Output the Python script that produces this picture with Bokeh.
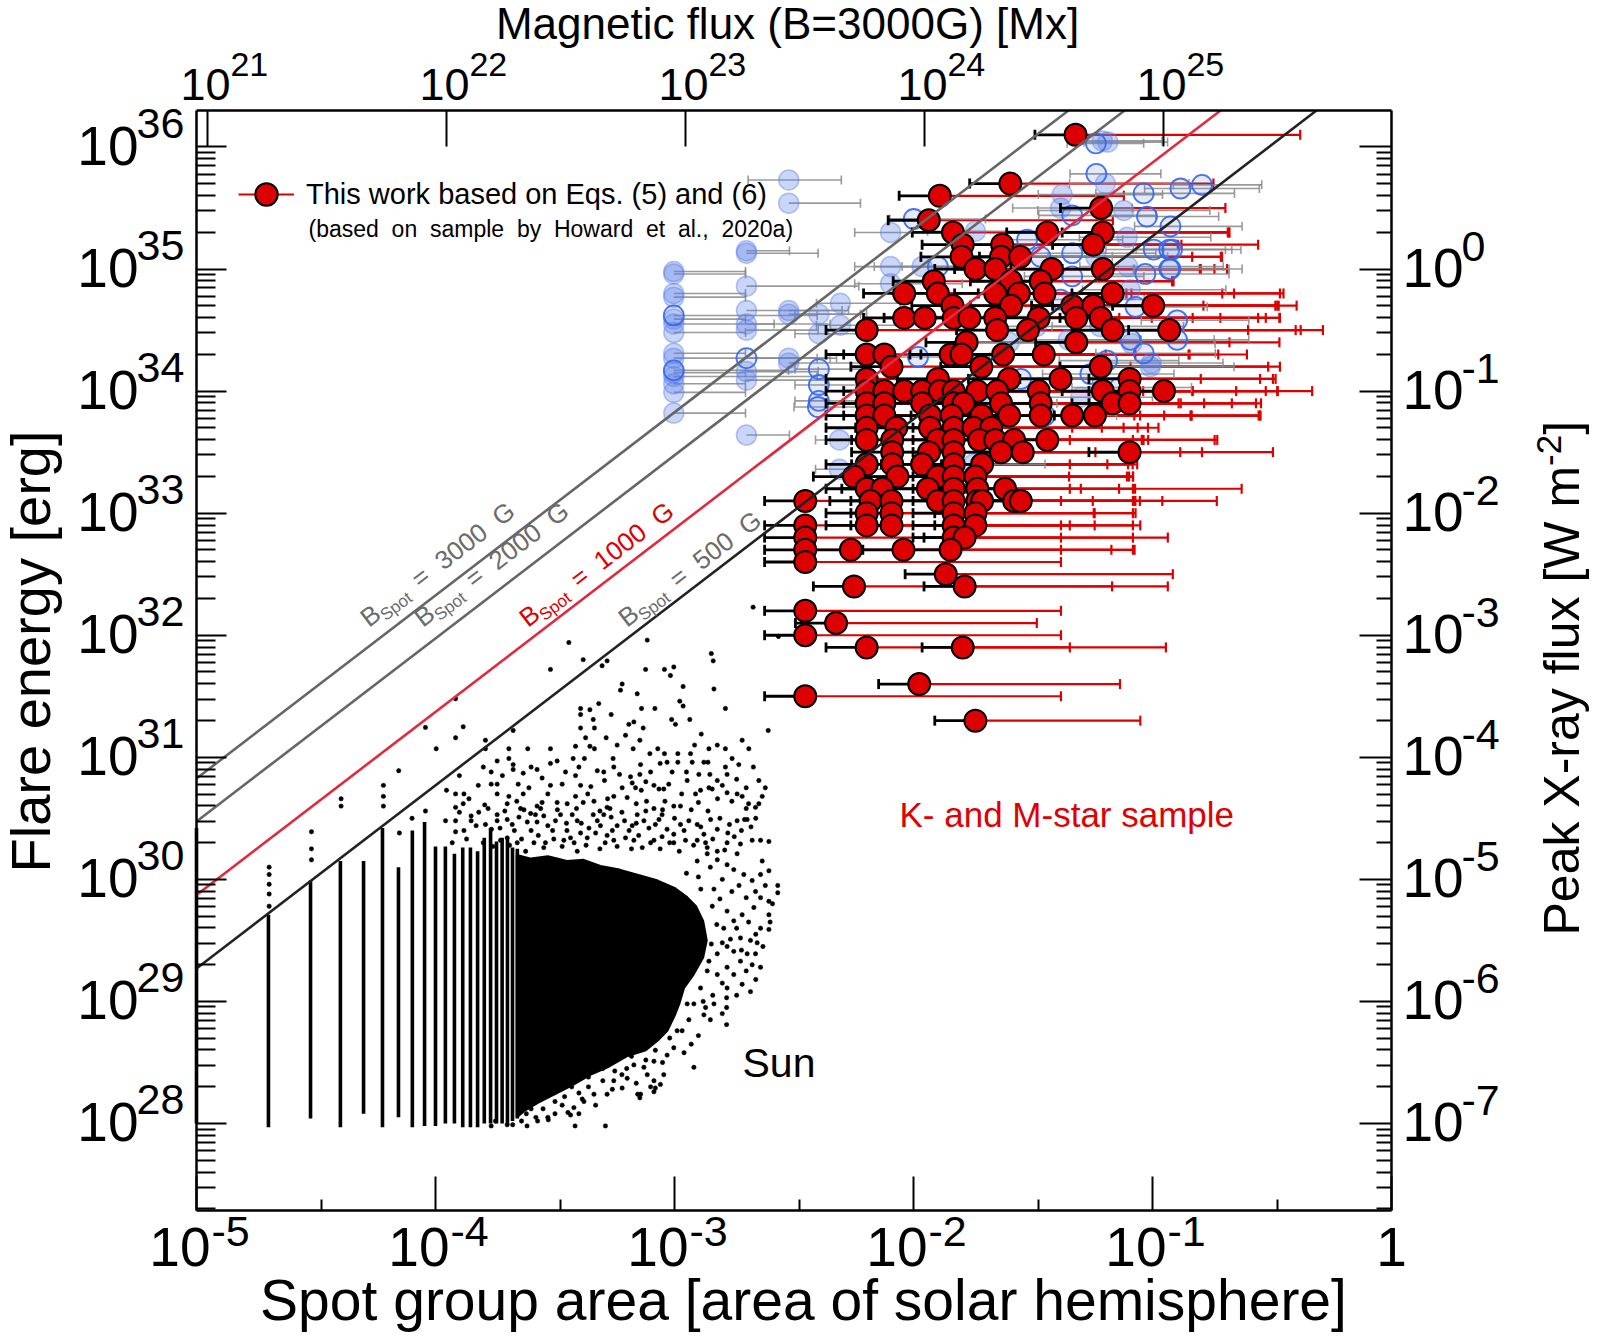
import math
from bokeh.plotting import figure
from bokeh.models import (Range1d, LogAxis, LogScale, FixedTicker, Label, Legend,
                          LegendItem, CustomJSTickFormatter)
from bokeh.embed import file_html
from bokeh.resources import INLINE

FONT = "Liberation Sans"
NB = "\u00a0"

# ---------------- axis definitions ----------------
X_MIN, X_MAX = 1e-5, 1.0
Y_LOG_MIN, Y_LOG_MAX = 27.287, 36.299
XRAY_SHIFT = 35            # log10 E[erg] - log10 F[W m^-2]
FLUX_UNIT = 9.0e25         # Mx for the whole hemisphere at 3000 G

bottom_tick_exp = [-5, -4, -3, -2, -1, 0]
bottom_tick_text = [("10", "-5"), ("10", "-4"), ("10", "-3"), ("10", "-2"), ("10", "-1"), ("1", "")]
bottom_minor = [3.35e-5, 3.35e-4, 3.35e-3, 3.35e-2, 3.35e-1]
left_tick_exp = [28, 29, 30, 31, 32, 33, 34, 35, 36]
right_tick_exp = [-7, -6, -5, -4, -3, -2, -1, 0, 1]
right_labeled_exp = [-7, -6, -5, -4, -3, -2, -1, 0]
top_tick_exp = [21, 22, 23, 24, 25]

# ---------------- field-strength lines ----------------
B_values = [3000, 2000, 1000, 500]
B_colors = ["#666666", "#666666", "#e02a3f", "#222222"]
B_label_colors = ["#6b6b6b", "#6b6b6b", "#dd0000", "#6b6b6b"]
LOG_E_500G_AT_MIN_AREA = 29.27

# ---------------- Sun (log10 area, log10 energy) ----------------
sun_col_n = [1, 2, 3, 4, 5, 6, 7, 8, 9, 10, 11, 12, 13, 14, 15, 16, 17, 18, 19, 20, 21, 22]
sun_col_lo = [28.00, 27.97, 28.04, 27.97, 28.08, 27.97, 28.05, 27.97, 27.98, 27.98, 28.00,
              28.00, 27.97, 27.97, 27.97, 28.00, 28.00, 28.00, 28.00, 28.00, 28.02, 28.04]
sun_col_hi = [30.42, 29.71, 29.99, 30.15, 30.15, 30.42, 30.10, 30.40, 30.47, 30.27, 30.27,
              30.21, 30.26, 30.26, 30.23, 30.34, 30.42, 30.31, 30.34, 30.34, 30.26, 30.25]

sun_core = [(-3.66, 30.20), (-3.60, 30.17), (-3.53, 30.19), (-3.45, 30.15), (-3.38, 30.16),
            (-3.31, 30.11), (-3.23, 30.08), (-3.14, 30.03), (-3.07, 29.99), (-3.00, 29.93),
            (-2.95, 29.86), (-2.91, 29.78), (-2.88, 29.66), (-2.865, 29.50), (-2.88, 29.36),
            (-2.92, 29.22), (-2.96, 29.11), (-2.98, 28.98), (-3.00, 28.88), (-3.03, 28.76),
            (-3.07, 28.68), (-3.12, 28.60), (-3.20, 28.55), (-3.28, 28.46), (-3.35, 28.40),
            (-3.43, 28.31), (-3.50, 28.24), (-3.57, 28.17), (-3.63, 28.10), (-3.66, 28.05)]

sun_high = [(-3.442, 31.94), (-3.114, 31.96), (-3.382, 31.80), (-3.519, 31.72), (-3.303, 31.75),
            (-3.282, 31.79), (-3.121, 31.72), (-3.042, 31.72), (-3.003, 31.74), (-3.017, 31.67),
            (-2.846, 31.85), (-2.838, 31.79), (-3.219, 31.60), (-3.226, 31.55), (-2.964, 31.58),
            (-2.835, 31.56), (-3.156, 31.52), (-3.916, 31.48), (-2.978, 31.46), (-2.964, 31.42),
            (-2.787, 31.40), (-3.138, 31.40), (-3.082, 31.40), (-3.317, 31.44), (-3.393, 31.40),
            (-3.354, 31.39), (-3.393, 31.35), (-3.265, 31.35), (-3.340, 31.31), (-3.012, 31.31),
            (-2.936, 31.31), (-3.170, 31.29), (-3.191, 31.27), (-3.131, 31.24), (-3.393, 31.24),
            (-3.335, 31.24), (-2.996, 31.27), (-3.884, 31.25), (-3.916, 31.16), (-3.675, 31.22),
            (-3.372, 31.16), (-3.286, 31.16), (-3.205, 31.18), (-3.145, 31.14), (-2.888, 31.19),
            (-2.717, 31.14), (-2.608, 31.22), (-3.791, 31.14), (-3.791, 31.07), (-3.693, 31.07),
            (-3.614, 31.07), (-3.519, 31.07), (-3.414, 31.09), (-3.354, 31.09), (-3.335, 31.07),
            (-3.240, 31.10), (-3.173, 31.07), (-3.103, 31.03), (-3.070, 31.07), (-3.042, 31.03),
            (-2.986, 31.03), (-2.933, 31.03), (-2.916, 31.10), (-2.856, 31.07), (-2.821, 31.10),
            (-2.787, 31.07), (-2.689, 31.07), (-2.671, 32.23), (-2.565, 31.99)]

sun_upper = [(-3.742, 30.97), (-3.693, 30.99), (-3.675, 30.94), (-3.675, 30.90), (-3.633, 30.87),
             (-3.767, 30.88), (-3.575, 30.90), (-3.554, 30.83), (-3.519, 30.95), (-3.491, 30.97),
             (-3.456, 30.88), (-3.424, 30.99), (-3.377, 30.99), (-3.414, 30.85), (-3.323, 30.89),
             (-3.296, 30.88), (-3.293, 30.81), (-3.257, 30.99), (-3.254, 30.92), (-3.184, 30.84),
             (-3.177, 30.79), (-3.142, 30.94), (-3.145, 30.86), (-3.100, 30.88), (-3.086, 30.77),
             (-3.065, 30.74), (-3.045, 30.74), (-3.024, 30.78), (-3.010, 30.88), (-3.031, 30.96),
             (-2.986, 30.96), (-2.926, 30.96), (-2.898, 30.86), (-2.877, 30.96), (-2.852, 30.86),
             (-2.821, 30.81), (-2.787, 30.92), (-2.780, 30.86), (-2.759, 30.99), (-2.731, 30.94),
             (-2.647, 30.81), (-2.633, 30.68), (-2.647, 30.62), (-2.661, 30.59), (-2.738, 30.70),
             (-2.717, 30.68), (-2.780, 30.71), (-2.842, 30.74), (-2.856, 30.75), (-2.891, 30.73),
             (-2.912, 30.70), (-2.947, 30.81), (-2.975, 30.60), (-3.003, 30.60), (-3.052, 30.53),
             (-3.086, 30.58), (-3.117, 30.64), (-3.139, 30.73), (-3.163, 30.75), (-3.198, 30.67),
             (-3.219, 30.75), (-3.254, 30.68), (-3.282, 30.59), (-3.312, 30.56), (-3.337, 30.64),
             (-3.363, 30.70), (-3.393, 30.77), (-3.414, 30.68), (-3.382, 30.63), (-3.449, 30.62),
             (-3.491, 30.63), (-3.519, 30.77), (-3.554, 30.63), (-3.575, 30.60), (-3.609, 30.75),
             (-3.633, 30.70), (-3.654, 30.78), (-3.693, 30.68), (-3.742, 30.78), (-3.767, 30.78),
             (-3.821, 30.77), (-3.881, 30.70), (-3.916, 30.70), (-3.954, 30.73), (-3.916, 30.59),
             (-3.884, 30.62), (-3.794, 30.61), (-3.742, 30.70), (-3.700, 30.62), (-3.644, 30.58),
             (-3.602, 30.54), (-3.90, 30.85), (-3.86, 30.66), (-3.80, 30.92), (-3.72, 30.85),
             (-3.66, 30.64), (-3.60, 30.92), (-3.53, 30.70), (-3.47, 30.78), (-3.40, 30.92),
             (-3.35, 30.76), (-3.28, 30.66), (-3.23, 30.86), (-3.16, 30.62), (-3.12, 30.80),
             (-3.06, 30.95), (-3.04, 30.64), (-2.97, 30.70), (-2.95, 30.88), (-2.90, 30.63),
             (-2.86, 30.96), (-2.82, 30.66), (-2.80, 30.77), (-2.76, 30.64), (-2.74, 30.82),
             (-2.70, 30.75), (-2.69, 30.62), (-2.67, 30.92), (-2.62, 30.75)]

sun_rim = [(-3.958, 30.48), (-3.916, 30.48), (-3.916, 30.39), (-3.881, 30.40), (-3.851, 30.52),
           (-3.851, 30.48), (-3.819, 30.55), (-3.791, 30.45), (-3.766, 30.41), (-3.742, 30.53),
           (-3.742, 30.48), (-3.700, 30.49), (-3.679, 30.45), (-3.651, 30.51), (-3.616, 30.47),
           (-3.582, 30.53), (-3.575, 30.47), (-3.547, 30.52), (-3.530, 30.44), (-3.498, 30.48),
           (-3.477, 30.53), (-3.452, 30.46), (-3.428, 30.53), (-3.407, 30.48), (-3.393, 30.38),
           (-3.358, 30.42), (-3.323, 30.48), (-3.296, 30.53), (-3.265, 30.51), (-3.240, 30.44),
           (-3.209, 30.48), (-3.177, 30.44), (-3.156, 30.53), (-3.128, 30.48), (-3.107, 30.42),
           (-3.065, 30.49), (-3.031, 30.41), (-3.003, 30.37), (-2.975, 30.45), (-2.940, 30.48),
           (-2.905, 30.45), (-2.877, 30.37), (-2.849, 30.49), (-2.821, 30.41), (-2.777, 30.38),
           (-2.738, 30.48), (-2.707, 30.49), (-2.696, 30.49), (-2.675, 30.32), (-2.640, 30.32),
           (-2.605, 30.31), (-2.724, 30.29), (-2.780, 30.30), (-2.821, 30.23), (-2.863, 30.26),
           (-2.905, 30.32), (-2.954, 30.32), (-3.003, 30.30), (-3.052, 30.35), (-3.086, 30.32),
           (-3.135, 30.26), (-3.170, 30.32), (-3.205, 30.34), (-3.254, 30.32), (-3.282, 30.36),
           (-3.312, 30.25), (-3.365, 30.34), (-3.407, 30.23), (-3.435, 30.34), (-3.463, 30.32),
           (-3.505, 30.33), (-3.547, 30.26), (-3.588, 30.30), (-3.623, 30.23), (-3.658, 30.30),
           (-3.700, 30.34), (-3.728, 30.32),
           (-3.93, 30.30), (-3.90, 30.55), (-3.87, 30.33), (-3.83, 30.44), (-3.80, 30.30),
           (-3.78, 30.58), (-3.76, 30.27), (-3.73, 30.42), (-3.71, 30.56), (-3.69, 30.28),
           (-3.67, 30.40), (-3.64, 30.33), (-3.63, 30.57), (-3.60, 30.40), (-3.57, 30.36),
           (-3.56, 30.58), (-3.54, 30.30), (-3.51, 30.40), (-3.49, 30.57), (-3.47, 30.27),
           (-3.45, 30.40), (-3.42, 30.30), (-3.41, 30.58), (-3.39, 30.46), (-3.37, 30.28),
           (-3.34, 30.53), (-3.33, 30.38), (-3.31, 30.44), (-3.29, 30.30), (-3.27, 30.58),
           (-3.26, 30.40), (-3.24, 30.27), (-3.22, 30.55), (-3.19, 30.40), (-3.18, 30.25),
           (-3.16, 30.46), (-3.15, 30.36), (-3.12, 30.56), (-3.10, 30.30), (-3.08, 30.45),
           (-3.06, 30.25), (-3.05, 30.57), (-3.02, 30.30), (-3.00, 30.50), (-2.98, 30.23),
           (-2.96, 30.40), (-2.93, 30.57), (-2.92, 30.28), (-2.89, 30.43), (-2.87, 30.30),
           (-2.86, 30.56), (-2.84, 30.33), (-2.81, 30.50), (-2.79, 30.24), (-2.77, 30.45),
           (-2.75, 30.35), (-2.72, 30.40), (-2.70, 30.58), (-2.68, 30.43), (-2.66, 30.50)]

sun_right = [(-2.905, 30.15), (-2.863, 30.21), (-2.821, 30.16), (-2.780, 30.12), (-2.738, 30.21),
             (-2.752, 30.08), (-2.710, 30.04), (-2.675, 29.99), (-2.640, 30.04), (-2.633, 30.15),
             (-2.605, 30.07), (-2.568, 29.95), (-2.568, 29.89), (-2.640, 29.85), (-2.605, 29.82),
             (-2.661, 29.90), (-2.668, 29.77), (-2.717, 29.71), (-2.752, 29.66), (-2.780, 29.74),
             (-2.794, 29.60), (-2.766, 29.51), (-2.724, 29.52), (-2.682, 29.50), (-2.654, 29.48),
             (-2.605, 29.59), (-2.640, 29.60), (-2.605, 29.71), (-2.661, 29.39), (-2.696, 29.39),
             (-2.724, 29.33), (-2.752, 29.41), (-2.780, 29.28), (-2.752, 29.22), (-2.717, 29.14),
             (-2.780, 29.11), (-2.782, 29.03), (-2.782, 28.95), (-2.782, 28.81), (-2.821, 29.22),
             (-2.821, 29.39), (-2.863, 29.25), (-2.891, 29.11), (-2.877, 28.89), (-2.835, 28.98),
             (-2.682, 29.08), (-2.640, 29.28), (-2.675, 29.30), (-2.870, 28.95), (-2.940, 28.85),
             (-2.919, 28.98), (-2.947, 28.98), (-2.968, 28.76), (-2.835, 29.92), (-2.842, 29.78),
             (-2.823, 29.63), (-2.846, 29.47), (-2.856, 29.33), (-2.810, 29.84), (-2.800, 29.48),
             (-2.890, 29.92), (-2.900, 30.02), (-2.950, 30.05),
             (-2.85, 30.10), (-2.80, 30.00), (-2.76, 29.90), (-2.73, 29.95), (-2.70, 29.85),
             (-2.69, 29.65), (-2.74, 29.60), (-2.78, 29.45), (-2.72, 29.42), (-2.66, 29.55),
             (-2.63, 29.45), (-2.60, 29.65), (-2.62, 29.95), (-2.59, 29.80), (-2.70, 29.25),
             (-2.74, 29.05), (-2.80, 28.90), (-2.85, 28.85), (-2.90, 28.72), (-2.93, 28.65),
             (-2.96, 28.58), (-2.80, 29.15), (-2.84, 29.05), (-2.88, 29.00), (-2.66, 29.18)]

sun_low = [(-3.003, 28.62), (-2.989, 28.76), (-3.031, 28.56), (-3.045, 28.40), (-3.059, 28.32),
           (-3.086, 28.26), (-3.086, 28.35), (-3.128, 28.46), (-3.142, 28.24), (-3.145, 28.21),
           (-3.198, 28.37), (-3.219, 28.29), (-3.254, 28.35), (-3.282, 28.24), (-3.337, 28.24),
           (-3.379, 28.18), (-3.421, 28.13), (-3.435, 28.07), (-2.919, 28.46), (-3.086, 28.51),
           (-3.114, 28.40), (-3.170, 28.48), (-3.767, 27.98), (-3.749, 28.02), (-3.700, 27.99),
           (-3.677, 27.99), (-3.617, 27.98), (-3.573, 28.02), (-3.528, 28.03), (-3.416, 27.98),
           (-3.289, 27.98), (-3.446, 28.09), (-3.386, 28.20), (-3.154, 28.24), (-3.080, 28.29),
           (-3.620, 28.08), (-3.580, 28.05), (-3.550, 28.12), (-3.500, 28.08), (-3.470, 28.15),
           (-3.400, 28.25), (-3.360, 28.30), (-3.300, 28.35), (-3.250, 28.43), (-3.200, 28.45),
           (-3.02, 28.70), (-3.05, 28.50), (-3.08, 28.60), (-3.10, 28.30), (-3.12, 28.52),
           (-3.16, 28.33), (-3.18, 28.55), (-3.22, 28.40), (-3.26, 28.28), (-3.30, 28.45),
           (-3.33, 28.15), (-3.36, 28.38), (-3.40, 28.08), (-3.43, 28.30), (-3.46, 28.22),
           (-3.50, 28.18), (-3.53, 28.05), (-3.56, 28.20), (-3.60, 28.12), (-3.64, 28.02)]

sun_left = [(-4.154, 30.89), (-4.042, 31.245), (-3.997, 31.07), (-4.519, 30.39), (-4.519, 30.25),
            (-4.519, 30.16), (-4.395, 30.66), (-4.395, 30.60), (-4.218, 30.77), (-4.218, 30.68),
            (-4.218, 30.60), (-4.151, 30.38), (-4.042, 30.56), (-4.098, 30.50), (-4.696, 30.10),
            (-4.696, 30.04), (-4.696, 29.96), (-4.696, 29.88), (-4.696, 29.78)]

# ---------------- K- and M-star sample, this work (log A, log E, right error in dex) ----------------
RED_LEFT_ERR = 0.17
red_upper = [(-1.322, 36.1, 0.94), (-1.595, 35.7, 0.85), (-1.890, 35.6, 0.77), (-1.215, 35.5, 0.52),
             (-1.936, 35.4, 0.77), (-1.835, 35.3, 1.15), (-1.440, 35.3, 0.76), (-1.208, 35.3, 0.53),
             (-1.794, 35.2, 0.90), (-1.629, 35.2, 0.75), (-1.248, 35.2, 0.69),
             (-1.799, 35.1, 1.09), (-1.634, 35.1, 0.92), (-1.554, 35.1, 0.72),
             (-1.741, 35.0, 1.00), (-1.658, 35.0, 0.86), (-1.422, 35.0, 0.62), (-1.208, 35.0, 0.52),
             (-1.915, 34.9, 1.00), (-1.592, 34.9, 0.68), (-1.468, 34.9, 0.55),
             (-2.039, 34.8, 0.93), (-1.898, 34.8, 0.81), (-1.658, 34.8, 0.95), (-1.559, 34.8, 0.90),
             (-1.452, 34.8, 1.00), (-1.167, 34.8, 0.70),
             (-1.837, 34.7, 1.05), (-1.592, 34.7, 1.12), (-1.336, 34.7, 0.85), (-1.248, 34.7, 0.77),
             (-0.997, 34.7, 0.60),
             (-2.039, 34.6, 0.90), (-1.953, 34.6, 0.95), (-1.832, 34.6, 1.00), (-1.766, 34.6, 1.05),
             (-1.658, 34.6, 1.10), (-1.476, 34.6, 0.95), (-1.319, 34.6, 0.85), (-1.217, 34.6, 0.75),
             (-2.196, 34.5, 1.05), (-1.650, 34.5, 1.05), (-1.521, 34.5, 1.12), (-1.167, 34.5, 0.88),
             (-0.930, 34.5, 0.55),
             (-1.778, 34.4, 1.10), (-1.319, 34.4, 0.85)]
red_middle = [(-2.196, 34.3, 1.00), (-2.122, 34.3, 1.05), (-1.845, 34.3, 1.00), (-1.799, 34.3, 0.95),
              (-1.625, 34.3, 0.90), (-1.455, 34.3, 0.85),
              (-2.092, 34.2, 1.00), (-1.716, 34.2, 1.20), (-1.217, 34.2, 0.75),
              (-2.196, 34.1, 1.00), (-1.898, 34.1, 1.10), (-1.600, 34.1, 1.05), (-1.385, 34.1, 0.90),
              (-1.096, 34.1, 0.60),
              (-2.196, 34.0, 1.10), (-2.122, 34.0, 1.00), (-2.039, 34.0, 1.00), (-1.964, 34.0, 1.05),
              (-1.890, 34.0, 0.95), (-1.832, 34.0, 1.00), (-1.733, 34.0, 0.90), (-1.650, 34.0, 1.00),
              (-1.476, 34.0, 0.95), (-1.208, 34.0, 0.73), (-1.096, 34.0, 0.62), (-0.952, 34.0, 0.62),
              (-2.196, 33.9, 1.05), (-2.122, 33.9, 1.00), (-1.964, 33.9, 0.90), (-1.832, 33.9, 0.95),
              (-1.791, 33.9, 0.90), (-1.634, 33.9, 0.85), (-1.468, 33.9, 0.80), (-1.167, 33.9, 0.60),
              (-1.096, 33.9, 0.55),
              (-2.196, 33.8, 1.12), (-2.122, 33.8, 1.07), (-1.931, 33.8, 0.98), (-1.840, 33.8, 1.00),
              (-1.716, 33.8, 0.88), (-1.600, 33.8, 0.76), (-1.468, 33.8, 0.92), (-1.336, 33.8, 0.78),
              (-1.241, 33.8, 0.69),
              (-2.196, 33.7, 0.86), (-2.072, 33.7, 0.86), (-1.931, 33.7, 0.81), (-1.832, 33.7, 0.77),
              (-1.749, 33.7, 0.73), (-1.675, 33.7, 0.70),
              (-2.196, 33.6, 0.85), (-2.089, 33.6, 1.05), (-1.898, 33.6, 0.88), (-1.832, 33.6, 0.75),
              (-1.725, 33.6, 0.68), (-1.658, 33.6, 0.62), (-1.579, 33.6, 0.85), (-1.440, 33.6, 0.70),
              (-2.089, 33.5, 0.85), (-1.935, 33.5, 0.83), (-1.832, 33.5, 0.70), (-1.634, 33.5, 0.75),
              (-1.543, 33.5, 0.75), (-1.096, 33.5, 0.60)]
red_lower = [(-2.196, 33.4, 0.85), (-2.089, 33.4, 0.90), (-1.964, 33.4, 0.90), (-1.832, 33.4, 0.73),
             (-1.713, 33.4, 0.63),
             (-2.249, 33.3, 0.90), (-2.067, 33.3, 0.96), (-1.898, 33.3, 0.80), (-1.832, 33.3, 0.75),
             (-1.741, 33.3, 0.66),
             (-2.196, 33.2, 0.85), (-2.130, 33.2, 0.83), (-1.940, 33.2, 0.80), (-1.832, 33.2, 0.75),
             (-1.733, 33.2, 0.66), (-1.617, 33.2, 0.99),
             (-2.453, 33.1, 1.07), (-2.180, 33.1, 0.93), (-2.092, 33.1, 1.01), (-1.898, 33.1, 0.82),
             (-1.832, 33.1, 0.76), (-1.733, 33.1, 0.66), (-1.713, 33.1, 0.66), (-1.579, 33.1, 0.62),
             (-1.551, 33.1, 0.82),
             (-2.196, 33.0, 0.95), (-2.092, 33.0, 0.85), (-1.832, 33.0, 0.75), (-1.741, 33.0, 0.67),
             (-2.453, 32.9, 1.07), (-2.196, 32.9, 0.85), (-2.092, 32.9, 0.85), (-1.832, 32.9, 0.75),
             (-1.741, 32.9, 0.69),
             (-2.453, 32.8, 1.07), (-1.832, 32.8, 0.75), (-1.786, 32.8, 0.85),
             (-2.453, 32.7, 1.07), (-2.262, 32.7, 1.09), (-2.042, 32.7, 0.96), (-1.845, 32.7, 0.77),
             (-2.453, 32.6, 1.07), (-1.865, 32.5, 0.95), (-2.249, 32.4, 1.08), (-1.786, 32.4, 0.85),
             (-2.453, 32.2, 1.07), (-2.324, 32.1, 0.84), (-2.453, 32.0, 1.07), (-2.196, 31.9, 0.85),
             (-1.794, 31.9, 0.85), (-1.976, 31.6, 0.84), (-2.453, 31.5, 1.07), (-1.741, 31.3, 0.69)]

# ---------------- Howard et al. sample (log A, log E, open?, left err, right err) ----------------
blue_columns = [(-3.003, 34.98, 0, 0.0, 0.30), (-3.003, 34.96, 0, 0.0, 0.30), (-3.003, 34.80, 0, 0.0, 0.30),
                (-3.003, 34.77, 0, 0.0, 0.30), (-3.003, 34.62, 1, 0.0, 0.60), (-3.003, 34.59, 0, 0.0, 0.30),
                (-3.003, 34.55, 0, 0.0, 0.42), (-3.003, 34.48, 0, 0.0, 0.30), (-3.003, 34.31, 0, 0.0, 0.30),
                (-3.003, 34.27, 0, 0.0, 0.60), (-3.003, 34.17, 1, 0.0, 0.48), (-3.003, 34.15, 0, 0.0, 0.30),
                (-3.003, 34.12, 0, 0.0, 0.60), (-3.003, 34.06, 0, 0.0, 0.30), (-3.003, 33.99, 0, 0.0, 0.30),
                (-3.003, 33.82, 0, 0.0, 0.30),
                (-2.699, 35.15, 0, 0.0, 0.18), (-2.699, 35.13, 0, 0.0, 0.30), (-2.699, 34.86, 0, 0.0, 0.47),
                (-2.699, 34.66, 0, 0.0, 0.40), (-2.699, 34.55, 0, 0.0, 0.35), (-2.699, 34.50, 0, 0.0, 0.30),
                (-2.699, 34.27, 1, 0.0, 0.35), (-2.699, 34.16, 0, 0.0, 0.30), (-2.699, 34.09, 0, 0.0, 0.47),
                (-2.699, 33.64, 0, 0.0, 0.18),
                (-2.522, 35.73, 0, 0.17, 0.22), (-2.522, 35.54, 0, 0.0, 0.30), (-2.522, 34.66, 0, 0.0, 0.25),
                (-2.522, 34.63, 0, 0.0, 0.30), (-2.522, 34.27, 0, 0.0, 0.20), (-2.522, 34.23, 0, 0.0, 0.30),
                (-2.396, 34.63, 0, 0.10, 0.20), (-2.396, 34.47, 0, 0.10, 0.20), (-2.396, 34.18, 1, 0.10, 0.20),
                (-2.396, 34.05, 1, 0.10, 0.20), (-2.396, 33.92, 1, 0.10, 0.20),
                (-2.306, 34.72, 0, 0.10, 0.25), (-2.306, 34.54, 0, 0.10, 0.25),
                (-2.096, 35.30, 0, 0.15, 0.30), (-2.096, 35.02, 0, 0.15, 0.30), (-2.096, 34.88, 0, 0.15, 0.30),
                (-1.999, 35.41, 1, 0.10, 0.30), (-2.310, 33.36, 0, 0.10, 0.25), (-2.310, 33.60, 0, 0.10, 0.25),
                (-2.400, 33.87, 1, 0.10, 0.25)]
blue_cluster = [(-1.235, 35.78, 1, 0.11, 0.27), (-1.197, 35.70, 0, 0.15, 0.35), (-0.883, 35.66, 1, 0.15, 0.33),
                (-0.793, 35.69, 1, 0.12, 0.25), (-1.378, 35.61, 0, 0.10, 0.42), (-1.037, 35.62, 1, 0.20, 0.38),
                (-1.336, 35.44, 1, 0.14, 0.35), (-1.385, 35.50, 0, 0.20, 0.30), (-1.120, 35.48, 0, 0.36, 0.36),
                (-1.023, 35.43, 1, 0.20, 0.30), (-0.925, 35.35, 1, 0.15, 0.30), (-1.525, 35.24, 1, 0.12, 0.40),
                (-1.106, 35.26, 0, 0.20, 0.35), (-0.995, 35.16, 1, 0.20, 0.30), (-0.918, 35.16, 1, 0.15, 0.25),
                (-1.030, 34.96, 1, 0.20, 0.35), (-0.925, 35.00, 1, 0.15, 0.30), (-1.336, 34.94, 1, 0.20, 0.30),
                (-1.093, 34.83, 0, 0.20, 0.40), (-0.897, 34.58, 1, 0.15, 0.30), (-0.897, 34.42, 1, 0.15, 0.30),
                (-1.092, 34.42, 1, 0.20, 0.35), (-1.037, 34.31, 1, 0.20, 0.30), (-1.009, 34.20, 0, 0.20, 0.35),
                (-1.190, 34.25, 1, 0.20, 0.30), (-1.260, 34.14, 1, 0.20, 0.35), (-1.210, 36.05, 0, 0.10, 0.25),
                (-1.237, 36.03, 1, 0.12, 0.20), (-1.187, 36.04, 0, 0.10, 0.25), (-1.741, 35.31, 0, 0.20, 0.30),
                (-1.898, 35.02, 1, 0.15, 0.35), (-1.964, 35.02, 0, 0.20, 0.30), (-1.468, 35.10, 1, 0.20, 0.30),
                (-1.336, 35.13, 1, 0.20, 0.35), (-1.237, 35.10, 0, 0.20, 0.30), (-1.104, 35.02, 0, 0.20, 0.40),
                (-1.981, 34.28, 1, 0.20, 0.30), (-1.832, 34.61, 0, 0.20, 0.35), (-1.385, 34.75, 1, 0.20, 0.35),
                (-1.071, 34.69, 1, 0.20, 0.30), (-1.485, 34.53, 0, 0.20, 0.35), (-1.352, 34.42, 0, 0.20, 0.30),
                (-1.220, 34.53, 0, 0.20, 0.35), (-1.137, 34.03, 1, 0.20, 0.30), (-1.005, 34.23, 0, 0.20, 0.30),
                (-1.088, 34.39, 0, 0.20, 0.35), (-1.600, 34.40, 0, 0.20, 0.30), (-1.550, 34.10, 1, 0.20, 0.30),
                (-1.700, 33.90, 0, 0.20, 0.30), (-1.450, 33.80, 1, 0.20, 0.30), (-1.300, 33.95, 0, 0.20, 0.30),
                (-1.900, 33.60, 0, 0.20, 0.30), (-1.750, 33.40, 0, 0.20, 0.30), (-0.930, 35.16, 1, 0.15, 0.30),
                (-0.930, 35.00, 1, 0.15, 0.25)]

# ---------------- texts ----------------
legend_text = "This work based on Eqs. (5) and (6)"
legend_note = NB.join(["(based", "", "on", "", "sample", "", "by", "", "Howard", "", "et", "", "al.,", "", "2020a)"])
sample_text = "K- and M-star sample"
sun_text = "Sun"
title_top = "Magnetic flux (B=3000G) [Mx]"
title_bottom = "Spot group area [area of solar hemisphere]"
title_left = "Flare energy [erg]"
title_right = ("Peak X-ray flux [W m", "-2", "]")

RED_C = "#dd0000"

# ---------------- layout: plot box inside a full-canvas frame ----------------
FW, FH = 1195, 1100             # box size in px
ML, MR, MT, MB = 196, 199, 110, 126
CW, CH = ML + FW + MR, MT + FH + MB
ppd_x = FW / math.log10(X_MAX / X_MIN)
ppd_y = FH / (Y_LOG_MAX - Y_LOG_MIN)
xr_lo = 10 ** (math.log10(X_MIN) - ML / ppd_x)
xr_hi = 10 ** (math.log10(X_MAX) + MR / ppd_x)
yr_lo_log = Y_LOG_MIN - MB / ppd_y
yr_hi_log = Y_LOG_MAX + MT / ppd_y

p = figure(width=CW, height=CH, x_axis_type="log", y_axis_type="log",
           x_axis_location=None, y_axis_location=None, title=None,
           x_range=Range1d(xr_lo, xr_hi), y_range=Range1d(10 ** yr_lo_log, 10 ** yr_hi_log),
           output_backend="svg", toolbar_location=None,
           min_border=0, min_border_left=0, min_border_right=0, min_border_top=0, min_border_bottom=0)
p.extra_y_ranges = {"xray": Range1d(10 ** (yr_lo_log - XRAY_SHIFT), 10 ** (yr_hi_log - XRAY_SHIFT))}
p.extra_y_scales = {"xray": LogScale()}
p.extra_x_ranges = {"flux": Range1d(xr_lo * FLUX_UNIT, xr_hi * FLUX_UNIT)}
p.extra_x_scales = {"flux": LogScale()}
p.xgrid.visible = False
p.ygrid.visible = False
p.outline_line_color = None
p.background_fill_color = "white"
p.border_fill_color = "white"


def minors(exps, lo, hi):
    out = []
    for k in range(min(exps) - 1, max(exps) + 1):
        for m in range(2, 10):
            v = m * 10.0 ** k
            if lo <= v <= hi:
                out.append(v)
    return out


def make_axis(major, minor, tin, mtin, bounds, **kw):
    ax = LogAxis(ticker=FixedTicker(ticks=major, minor_ticks=minor),
                 formatter=CustomJSTickFormatter(code="return ''"), bounds=bounds, **kw)
    ax.major_tick_in = tin
    ax.major_tick_out = 0
    ax.minor_tick_in = mtin
    ax.minor_tick_out = 0
    ax.major_tick_line_width = 2
    ax.minor_tick_line_width = 2
    ax.major_tick_line_color = "black"
    ax.minor_tick_line_color = "black"
    ax.axis_line_width = 2.5
    ax.axis_line_color = "black"
    return ax


Y_BOX = (10 ** Y_LOG_MIN, 10 ** Y_LOG_MAX)
XRAY_BOX = (Y_BOX[0] / 10 ** XRAY_SHIFT, Y_BOX[1] / 10 ** XRAY_SHIFT)
p.add_layout(make_axis([10.0 ** k for k in bottom_tick_exp], bottom_minor, 34, 11,
                       (X_MIN, X_MAX), fixed_location=Y_BOX[0]), "below")
p.add_layout(make_axis([10.0 ** k for k in left_tick_exp], minors(left_tick_exp, *Y_BOX), 30, 19,
                       Y_BOX, fixed_location=X_MIN), "left")
p.add_layout(make_axis([10.0 ** k for k in right_tick_exp], minors(right_tick_exp, *XRAY_BOX), 32, 15,
                       XRAY_BOX, fixed_location=X_MAX, y_range_name="xray"), "right")
p.add_layout(make_axis([10.0 ** k for k in top_tick_exp], [], 36, 0,
                       (X_MIN * FLUX_UNIT, X_MAX * FLUX_UNIT),
                       fixed_location=Y_BOX[1], x_range_name="flux"), "above")

BASE_FIX = 0.37   # the rendered alphabetic baseline sits this many font sizes below the anchor


def lab(text, x, y, size, xu="screen", yu="screen", align="left", color="black",
        angle=0.0, xo=0, yo=0, xr="default", yr="default"):
    # screen positions are given relative to the plot box (x right, y up from the box bottom)
    if xu == "screen":
        x = x + ML
    if yu == "screen":
        y = y + MB
    xo = xo - BASE_FIX * size * math.sin(angle)
    yo = yo + BASE_FIX * size * math.cos(angle)
    p.add_layout(Label(text=text, x=x, y=y, x_units=xu, y_units=yu, text_font=FONT,
                       text_font_size=f"{size}px", text_align=align, text_baseline="alphabetic",
                       text_color=color, angle=angle, x_offset=xo, y_offset=yo,
                       x_range_name=xr, y_range_name=yr))


# ---------------- Sun ----------------
p.segment(x0=[n * 1e-5 for n in sun_col_n], y0=[10 ** v for v in sun_col_lo],
          x1=[n * 1e-5 for n in sun_col_n], y1=[10 ** v for v in sun_col_hi],
          line_color="black", line_width=3.6)
p.patch([10 ** a for a, e in sun_core], [10 ** e for a, e in sun_core],
        fill_color="black", line_color="black", line_width=2)
sun_all = sun_high + sun_upper + sun_rim + sun_right + sun_low + sun_left
p.scatter([10 ** a for a, e in sun_all], [10 ** e for a, e in sun_all],
          size=4.4, fill_color="black", line_color="black", line_width=0.5)

# ---------------- red sample: right error bars ----------------
red_all = red_upper + red_middle + red_lower
rx = [10 ** a for a, e, h in red_all]
ry = [10 ** e for a, e, h in red_all]
rhi = [10 ** (a + h) for a, e, h in red_all]
rlo = [10 ** (a - RED_LEFT_ERR) for a, e, h in red_all]
red_seg = p.segment(x0=rx, y0=ry, x1=rhi, y1=ry, line_color=RED_C, line_width=2.2)
p.scatter(rhi, ry, marker="dash", angle=math.pi / 2, size=10, line_color=RED_C, line_width=2.2)

# ---------------- blue sample ----------------
blue_all = blue_columns + blue_cluster
bx = [10 ** b[0] for b in blue_all]
by = [10 ** b[1] for b in blue_all]
bl = [10 ** (b[0] - b[3]) for b in blue_all]
bh = [10 ** (b[0] + b[4]) for b in blue_all]
p.segment(x0=bl, y0=by, x1=bh, y1=by, line_color="#8a8a8a", line_alpha=0.85, line_width=1.6)
p.scatter(bh, by, marker="dash", angle=math.pi / 2, size=9, line_color="#8a8a8a",
          line_alpha=0.85, line_width=1.6)
has_left = [i for i, b in enumerate(blue_all) if b[3] > 0]
p.scatter([bl[i] for i in has_left], [by[i] for i in has_left], marker="dash", angle=math.pi / 2,
          size=9, line_color="#8a8a8a", line_alpha=0.85, line_width=1.6)
light = [i for i, b in enumerate(blue_all) if b[2] == 0]
opened = [i for i, b in enumerate(blue_all) if b[2] == 1]
p.scatter([bx[i] for i in light], [by[i] for i in light], size=20,
          fill_color="#5a7ee6", fill_alpha=0.32, line_color="#5a7ee6", line_alpha=0.45, line_width=1.5)
p.scatter([bx[i] for i in opened], [by[i] for i in opened], size=20,
          fill_color="#5a7ee6", fill_alpha=0.16, line_color="#3366f0", line_alpha=0.9, line_width=1.8)

# ---------------- red sample: left bars and circles ----------------
p.segment(x0=rlo, y0=ry, x1=rx, y1=ry, line_color="black", line_width=2.8)
p.scatter(rlo, ry, marker="dash", angle=math.pi / 2, size=10, line_color="black", line_width=2.8)
red_pts = p.scatter(rx, ry, size=22, fill_color=RED_C, line_color="black", line_width=2)

# ---------------- field-strength lines (clipped to the plot box) ----------------
for B, c in zip(B_values, B_colors):
    e0 = LOG_E_500G_AT_MIN_AREA + 2 * math.log10(B / 500.0)
    a_end = min(0.0, math.log10(X_MIN) + (Y_LOG_MAX - e0) / 1.5)
    e_end = e0 + 1.5 * (a_end - math.log10(X_MIN))
    p.line([X_MIN, 10 ** a_end], [10 ** e0, 10 ** e_end], line_color=c, line_width=2.6)

theta = math.atan(1.5 * ppd_y / ppd_x)
dx, dy = math.cos(theta), math.sin(theta)
px_, py_ = math.sin(theta), -math.cos(theta)
label_starts = [(173, 582), (227, 582), (332, 582), (431, 582)]
BS, SS = 26, 17
for B, col, (sx, sy) in zip(B_values, B_label_colors, label_starts):
    lab("B", sx, sy, BS, color=col, angle=theta)
    adv = 0.667 * BS
    lab("Spot", sx + adv * dx + 5 * px_, sy + adv * dy + 5 * py_, SS, color=col, angle=theta)
    adv2 = adv + 2.057 * SS + 0.45 * BS
    lab(f"={NB}{NB}{B}{NB}{NB}G", sx + adv2 * dx, sy + adv2 * dy, BS, color=col, angle=theta)

# ---------------- tick labels ----------------
for k in left_tick_exp:
    lab("10", -58, 10.0 ** k, 55, yu="data", align="right", yo=-19)
    lab(str(k), -60, 10.0 ** k, 43, yu="data", align="left", yo=8)
for k in right_labeled_exp:
    lab("10", FW + 11, 10.0 ** k, 55, yu="data", align="left", yo=-19, yr="xray")
    lab(str(k), FW + 70, 10.0 ** k, 43, yu="data", align="left", yo=7, yr="xray")
for k, (base, ex) in zip(bottom_tick_exp, bottom_tick_text):
    if ex:
        lab(base, 10.0 ** k, -57, 55, xu="data", align="right", xo=14)
        lab(ex, 10.0 ** k, -37, 43, xu="data", align="left", xo=15)
    else:
        lab(base, 10.0 ** k, -57, 55, xu="data", align="center")
for k in top_tick_exp:
    lab("10", 10.0 ** k, FH + 9, 45, xu="data", align="center", xo=-2, xr="flux")
    lab(str(k), 10.0 ** k, FH + 33, 34, xu="data", align="left", xo=23, xr="flux")

# ---------------- titles ----------------
lab(title_top, 591, 1171, 44, align="center")
lab(title_bottom, 607, -111, 57, align="center")
lab(title_left, -145, 559, 56, align="center", angle=math.pi / 2)
rt_size, rt_sup = 50, 35
rt_x, rt_y = 1384, 275
lab(title_right[0], rt_x, rt_y, rt_size, angle=math.pi / 2)
y_sup = rt_y + 9.391 * rt_size
lab(title_right[1], rt_x - 19, y_sup, rt_sup, angle=math.pi / 2)
lab(title_right[2], rt_x, y_sup + 0.889 * rt_sup, rt_size, angle=math.pi / 2)

# ---------------- annotations ----------------
lab(legend_note, 112, 973, 23)
lab(sample_text, 703, 383, 35, color="#e00000")
lab(sun_text, 546, 132, 41)

legend = Legend(items=[LegendItem(label=legend_text, renderers=[red_seg, red_pts])],
                location=(42 + ML, 988 + MB), background_fill_alpha=0, border_line_alpha=0,
                label_text_font=FONT, label_text_font_size="29px", label_text_color="black",
                glyph_width=56, glyph_height=56, label_height=56, label_standoff=12,
                padding=0, margin=0, spacing=0)
p.add_layout(legend)

open("out.html", "w").write(file_html(p, INLINE))
